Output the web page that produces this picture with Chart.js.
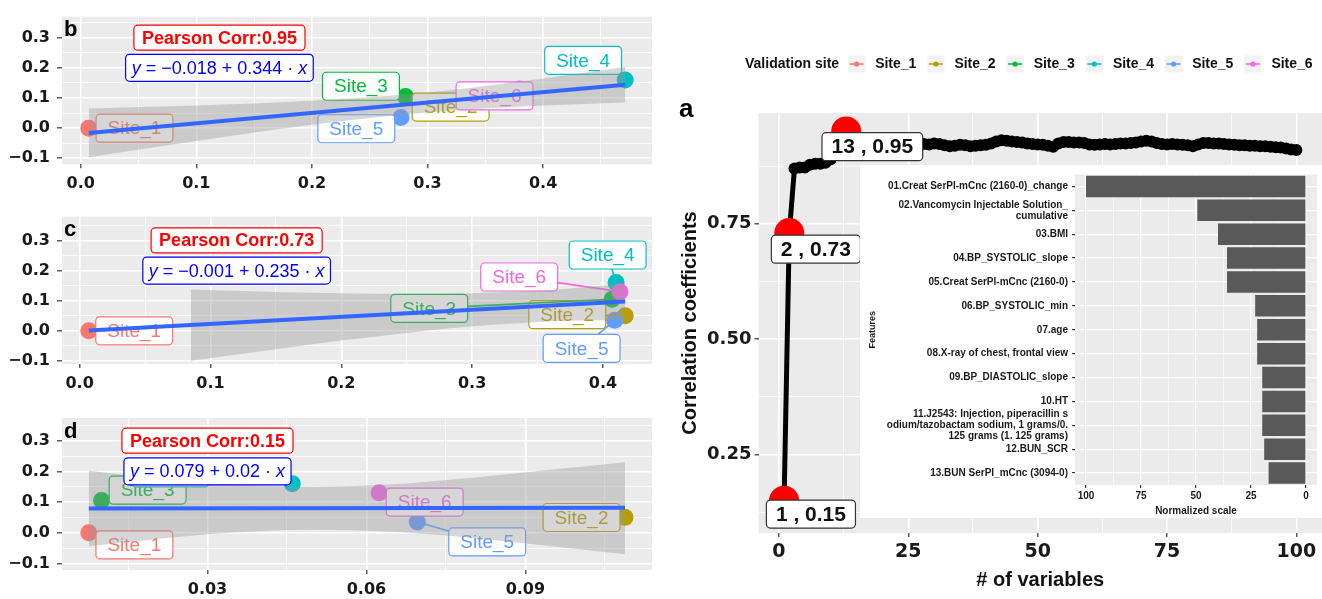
<!DOCTYPE html>
<html>
<head>
<meta charset="utf-8">
<script src="https://cdn.jsdelivr.net/npm/chart.js@4.4.1/dist/chart.umd.min.js"></script>
<style>
  body { margin: 0; background: #fff; }
  #fig { position: relative; width: 1322px; height: 599px; overflow: hidden; background: #fff; }
  canvas { position: absolute; }
</style>
</head>
<body>
<div id="fig">
  <canvas id="panelB" width="660" height="200" style="left:0px;top:0px"></canvas>
  <canvas id="panelC" width="660" height="200" style="left:0px;top:200px"></canvas>
  <canvas id="panelD" width="660" height="199" style="left:0px;top:400px"></canvas>
  <canvas id="panelA" width="662" height="599" style="left:660px;top:0px"></canvas>
  <canvas id="inset" width="462" height="353" style="left:860px;top:165px"></canvas>
</div>
<script>
const FONT = '"Liberation Sans", Arial, Helvetica, sans-serif';
const TICKFONT = '"DejaVu Sans", Verdana, sans-serif';
Chart.defaults.font.family = FONT;
Chart.defaults.color = '#1a1a1a';

// ---- sites (shared by b, c, d) ----
const siteNames = ['Site_1', 'Site_2', 'Site_3', 'Site_4', 'Site_5', 'Site_6'];
const siteColors = ['#F8766D', '#B79F00', '#00BA38', '#00BFC4', '#619CFF', '#F564E3'];
const siteCorr = [0, 0.05, 0.105, 0.16, 0.035, 0.13];

// ---- panel b ----
const bX = [0.007, 0.299, 0.281, 0.471, 0.277, 0.38];
const bFitX = [0.007, 0.471];
const bFitY = [-0.016, 0.144];
const bBandX = [0.007, 0.1, 0.2, 0.3, 0.4, 0.471];
const bBandLo = [-0.097, -0.043, 0.011, 0.052, 0.075, 0.085];
const bBandHi = [0.065, 0.075, 0.091, 0.118, 0.165, 0.203];
const bPearson = '0.95';
const bEquation = ['\u22120.018', '0.344'];

// ---- panel c ----
const cX = [0.007, 0.417, 0.407, 0.41, 0.409, 0.413];
const cFitX = [0.007, 0.417];
const cFitY = [0.001, 0.097];
const cBandX = [0.085, 0.15, 0.2, 0.25, 0.3, 0.344, 0.38, 0.417];
const cBandLo = [-0.099, -0.061, -0.032, -0.007, 0.015, 0.028, 0.034, 0.037];
const cBandHi = [0.137, 0.129, 0.125, 0.122, 0.125, 0.132, 0.142, 0.157];
const cPearson = '0.73';
const cEquation = ['\u22120.001', '0.235'];

// ---- panel d ----
const dX = [0.0076, 0.1088, 0.01, 0.046, 0.0696, 0.0624];
const dFitX = [0.0076, 0.1088];
const dFitY = [0.079, 0.081];
const dBandX = [0.0076, 0.02, 0.035, 0.05, 0.065, 0.08, 0.095, 0.1088];
const dBandLo = [-0.044, -0.021, 0.001, 0.01, 0.003, -0.017, -0.044, -0.07];
const dBandHi = [0.202, 0.179, 0.158, 0.15, 0.158, 0.179, 0.206, 0.23];
const dPearson = '0.15';
const dEquation = ['0.079', '0.02'];

// ---- panel a: correlation vs number of variables ----
const nVariables = [
  1, 2, 3, 4, 5, 6, 7, 8, 9, 10, 11, 12, 13, 14, 15, 16, 17, 18, 19, 20,
  21, 22, 23, 24, 25, 26, 27, 28, 29, 30, 31, 32, 33, 34, 35, 36, 37, 38, 39, 40,
  41, 42, 43, 44, 45, 46, 47, 48, 49, 50, 51, 52, 53, 54, 55, 56, 57, 58, 59, 60,
  61, 62, 63, 64, 65, 66, 67, 68, 69, 70, 71, 72, 73, 74, 75, 76, 77, 78, 79, 80,
  81, 82, 83, 84, 85, 86, 87, 88, 89, 90, 91, 92, 93, 94, 95, 96, 97, 98, 99, 100
];
const corrCoef = [
  0.15, 0.73, 0.87, 0.872, 0.872, 0.878, 0.88, 0.88, 0.882, 0.89,
  0.905, 0.915, 0.95, 0.925, 0.92, 0.918, 0.92, 0.922, 0.92, 0.918,
  0.92, 0.922, 0.92, 0.918, 0.92, 0.922, 0.924, 0.923, 0.922, 0.924,
  0.923, 0.92, 0.918, 0.919, 0.921, 0.92, 0.918, 0.919, 0.92, 0.921,
  0.924, 0.928, 0.931, 0.93, 0.928, 0.927, 0.926, 0.924, 0.923, 0.922,
  0.921, 0.919, 0.917, 0.924, 0.927, 0.927, 0.926, 0.926, 0.925, 0.922,
  0.921, 0.922, 0.923, 0.922, 0.923, 0.924, 0.924, 0.925, 0.926, 0.928,
  0.93, 0.928, 0.925, 0.923, 0.922, 0.923, 0.922, 0.921, 0.92, 0.918,
  0.922, 0.925, 0.925, 0.924, 0.924, 0.923, 0.922, 0.921, 0.92, 0.92,
  0.919, 0.919, 0.918, 0.918, 0.917, 0.916, 0.915, 0.913, 0.911, 0.91
];
const highlightIdx = [0, 1, 12];
const highlightText = ['1 , 0.15', '2 , 0.73', '13 , 0.95'];

// ---- inset: feature importance ----
const featureNames = [
  '01.Creat SerPl-mCnc (2160-0)_change',
  ['02.Vancomycin Injectable Solution_', 'cumulative'],
  '03.BMI',
  '04.BP_SYSTOLIC_slope',
  '05.Creat SerPl-mCnc (2160-0)',
  '06.BP_SYSTOLIC_min',
  '07.age',
  '08.X-ray of chest, frontal view',
  '09.BP_DIASTOLIC_slope',
  '10.HT',
  ['11.J2543: Injection, piperacillin s', 'odium/tazobactam sodium, 1 grams/0.', '125 grams (1. 125 grams)'],
  '12.BUN_SCR',
  '13.BUN SerPl_mCnc (3094-0)'
];
const featureScores = [100, 49.4, 40, 35.9, 35.9, 23.1, 22.2, 22.2, 19.9, 19.9, 19.9, 19, 17];

// ---- tick values / labels ----
const siteYMajor = [-0.1, 0, 0.1, 0.2, 0.3];
const siteYLabels = ['\u22120.1', '0.0', '0.1', '0.2', '0.3'];
const siteYMinor = [-0.05, 0.05, 0.15, 0.25, 0.35];
const bcXMajor = [0, 0.1, 0.2, 0.3, 0.4];
const bcXLabels = ['0.0', '0.1', '0.2', '0.3', '0.4'];
const bXMinor = [0.05, 0.15, 0.25, 0.35, 0.45];
const cXMinor = [0.05, 0.15, 0.25, 0.35];
const dXMajor = [0.03, 0.06, 0.09];
const dXLabels = ['0.03', '0.06', '0.09'];
const dXMinor = [0.015, 0.045, 0.075, 0.105];
const aXMajor = [0, 25, 50, 75, 100];
const aXLabels = ['0', '25', '50', '75', '100'];
const aXMinor = [12.5, 37.5, 62.5, 87.5];
const aYMajor = [0.25, 0.5, 0.75];
const aYLabels = ['0.25', '0.50', '0.75'];
const aYMinor = [0.125, 0.375, 0.625, 0.875];
const insetXMajor = [0, 25, 50, 75, 100];
const insetXLabels = ['0', '25', '50', '75', '100'];
const insetXMinor = [12.5, 37.5, 62.5, 87.5];

// grey ggplot panel behind everything
Chart.register({
  id: 'panelBg',
  beforeDraw(chart, args, o) {
    const { ctx, chartArea: a } = chart;
    ctx.save();
    if (o.page) {
      ctx.fillStyle = o.page;
      ctx.fillRect(0, 0, chart.width, chart.height);
    }
    ctx.fillStyle = '#EBEBEB';
    ctx.fillRect(a.left, a.top, a.right - a.left, a.bottom - a.top);
    ctx.restore();
  }
});

function ggLinear(o) {
  const all = o.major.concat(o.minor || []);
  const isMajor = v => o.major.indexOf(v) >= 0;
  const s = {
    type: 'linear', min: o.min, max: o.max, reverse: !!o.reverse,
    afterBuildTicks: sc => { sc.ticks = all.map(v => ({ value: v })); },
    afterFit: sc => { if (sc.isHorizontal()) sc.height = o.size; else sc.width = o.size; },
    ticks: {
      autoSkip: false, maxRotation: 0, padding: o.pad, color: '#1a1a1a',
      font: { size: o.fontSize, weight: 'bold', family: o.family || FONT },
      callback: v => isMajor(v) ? o.labels[o.major.indexOf(v)] : ''
    },
    grid: {
      color: '#fff',
      lineWidth: c => (c.tick && isMajor(c.tick.value)) ? o.majorW : o.minorW,
      tickColor: c => (c.tick && isMajor(c.tick.value)) ? '#333' : 'rgba(0,0,0,0)',
      tickLength: o.tickLen, tickWidth: 1.2
    },
    border: { display: false }
  };
  if (o.title) s.title = o.title;
  return s;
}

function box(ctx, cx, cy, w, h, r, stroke, lw) {
  const x = cx - w / 2, y = cy - h / 2;
  ctx.beginPath();
  ctx.moveTo(x + r, y);
  ctx.arcTo(x + w, y, x + w, y + h, r);
  ctx.arcTo(x + w, y + h, x, y + h, r);
  ctx.arcTo(x, y + h, x, y, r);
  ctx.arcTo(x, y, x + w, y, r);
  ctx.closePath();
  ctx.fillStyle = '#fff';
  ctx.fill();
  ctx.lineWidth = lw;
  ctx.strokeStyle = stroke;
  ctx.stroke();
}

function labelPlugin(p) {
  return {
    id: 'siteLabels',
    // site labels sit between the points and the smoother band
    afterDatasetDraw(chart, args) {
      if (args.index !== 0) return;
      const { ctx, scales: { x, y } } = chart;
      ctx.save();
      ctx.font = '19px ' + FONT;
      ctx.textAlign = 'center';
      ctx.textBaseline = 'middle';
      siteNames.forEach((name, i) => {
        const cx = x.getPixelForValue(p.labelX[i]);
        const cy = y.getPixelForValue(p.labelY[i]);
        const w = ctx.measureText(name).width + 23, h = 28;
        const px = x.getPixelForValue(p.x[i]);
        const py = y.getPixelForValue(siteCorr[i]);
        const dx = px - cx, dy = py - cy;
        const outX = Math.max(Math.abs(dx) - w / 2, 0);
        const outY = Math.max(Math.abs(dy) - h / 2, 0);
        if (Math.hypot(outX, outY) > 12) {
          const s = Math.min((w / 2) / Math.max(Math.abs(dx), 1e-6), (h / 2) / Math.max(Math.abs(dy), 1e-6));
          ctx.beginPath();
          ctx.moveTo(px, py);
          ctx.lineTo(cx + s * dx, cy + s * dy);
          ctx.strokeStyle = siteColors[i];
          ctx.lineWidth = 1.6;
          ctx.stroke();
        }
        box(ctx, cx, cy, w, h, 4, siteColors[i], 1.2);
        ctx.fillStyle = siteColors[i];
        ctx.fillText(name, cx, cy + 1);
      });
      ctx.restore();
    },
    afterDatasetsDraw(chart) {
      const { ctx, scales: { x, y }, chartArea } = chart;
      ctx.save();
      ctx.textBaseline = 'middle';
      // Pearson box
      const pcx = x.getPixelForValue(p.noteX), pcy = y.getPixelForValue(p.noteY[0]);
      ctx.font = 'bold 18px ' + FONT;
      const ptxt = 'Pearson Corr:' + p.pearson;
      const pw = ctx.measureText(ptxt).width + 16;
      box(ctx, pcx, pcy, pw, 25, 4, '#FF0000', 1.2);
      ctx.fillStyle = '#FF0000';
      ctx.textAlign = 'center';
      ctx.fillText(ptxt, pcx, pcy + 1);
      // equation box
      const ecx = x.getPixelForValue(p.noteX), ecy = y.getPixelForValue(p.noteY[1]);
      const pieces = [['y', true], [' = ' + p.eq[0] + ' + ' + p.eq[1] + ' \u00b7 ', false], ['x', true]];
      let tw = 0;
      const widths = pieces.map(pc => {
        ctx.font = (pc[1] ? 'italic ' : '') + '18px ' + FONT;
        const wv = ctx.measureText(pc[0]).width;
        tw += wv;
        return wv;
      });
      box(ctx, ecx, ecy, tw + 12, 27, 4, '#0000FF', 1.2);
      ctx.fillStyle = '#0000FF';
      ctx.textAlign = 'left';
      let tx = ecx - tw / 2;
      pieces.forEach((pc, k) => {
        ctx.font = (pc[1] ? 'italic ' : '') + '18px ' + FONT;
        ctx.fillText(pc[0], tx, ecy + 1);
        tx += widths[k];
      });
      // panel letter
      ctx.fillStyle = '#000';
      ctx.font = 'bold 22px ' + FONT;
      ctx.textBaseline = 'alphabetic';
      ctx.fillText(p.letter, chartArea.left + 2, chartArea.top + 19.5);
      ctx.restore();
    }
  };
}

function scatterPanel(id, p) {
  const pts = siteNames.map((n, i) => ({ x: p.x[i], y: siteCorr[i] }));
  const band = arr => p.bandX.map((v, i) => ({ x: v, y: arr[i] }));
  const bandStyle = {
    showLine: true, pointRadius: 0, borderWidth: 1, borderColor: 'rgba(0,0,0,0)',
    tension: 0.4, cubicInterpolationMode: 'monotone', order: 1
  };
  return new Chart(document.getElementById(id), {
    type: 'scatter',
    data: {
      datasets: [
        { data: pts, pointRadius: 8.5, pointBackgroundColor: siteColors, pointBorderColor: siteColors, pointBorderWidth: 0, order: 2 },
        Object.assign({ data: band(p.bandLo) }, bandStyle),
        Object.assign({ data: band(p.bandHi), fill: '-1', backgroundColor: 'rgba(153,153,153,0.4)' }, bandStyle),
        { data: p.fitX.map((v, i) => ({ x: v, y: p.fitY[i] })), showLine: true, pointRadius: 0, borderColor: '#3366FF', borderWidth: 4, order: 0 }
      ]
    },
    options: {
      responsive: false, animation: false, events: [],
      layout: { autoPadding: false, padding: { left: 0, top: p.padTop, right: 8, bottom: 0 } },
      scales: {
        x: ggLinear({ min: p.xMin, max: p.xMax, major: p.xMajor, labels: p.xLabels, minor: p.xMinor,
          size: p.xAxisH, pad: 6, tickLen: 4, fontSize: 16, family: TICKFONT, majorW: 1.6, minorW: 0.8 }),
        y: ggLinear({ min: p.yMin, max: p.yMax, major: siteYMajor, labels: siteYLabels, minor: siteYMinor,
          size: 62, pad: 7, tickLen: 5, fontSize: 16, family: TICKFONT, majorW: 1.6, minorW: 0.8 })
      },
      plugins: { legend: { display: false }, tooltip: { enabled: false }, panelBg: {} }
    },
    plugins: [labelPlugin(p)]
  });
}

scatterPanel('panelB', {
  letter: 'b', x: bX, fitX: bFitX, fitY: bFitY, bandX: bBandX, bandLo: bBandLo, bandHi: bBandHi,
  pearson: bPearson, eq: bEquation, noteX: 0.12, noteY: [0.3, 0.2],
  labelX: [0.0465, 0.32, 0.2424, 0.4346, 0.2384, 0.358],
  labelY: [0.0, 0.07, 0.139, 0.225, -0.002, 0.107],
  xMin: -0.0162, xMax: 0.4942, xMajor: bcXMajor, xLabels: bcXLabels, xMinor: bXMinor,
  yMin: -0.12, yMax: 0.37, padTop: 12.7, xAxisH: 35.7
});

scatterPanel('panelC', {
  letter: 'c', x: cX, fitX: cFitX, fitY: cFitY, bandX: cBandX, bandLo: cBandLo, bandHi: cBandHi,
  pearson: cPearson, eq: cEquation, noteX: 0.12, noteY: [0.3, 0.2],
  labelX: [0.0417, 0.3727, 0.2672, 0.4036, 0.3837, 0.336],
  labelY: [0.0, 0.0536, 0.0747, 0.2516, -0.0584, 0.1786],
  xMin: -0.0135, xMax: 0.4375, xMajor: bcXMajor, xLabels: bcXLabels, xMinor: cXMinor,
  yMin: -0.11, yMax: 0.379, padTop: 13.3, xAxisH: 36
});

scatterPanel('panelD', {
  letter: 'd', x: dX, fitX: dFitX, fitY: dFitY, bandX: dBandX, bandLo: dBandLo, bandHi: dBandHi,
  pearson: dPearson, eq: dEquation, noteX: 0.03, noteY: [0.3, 0.2],
  labelX: [0.0162, 0.1006, 0.0187, 0.023, 0.0828, 0.071],
  labelY: [-0.04, 0.0495, 0.139, 0.195, -0.03, 0.1],
  xMin: 0.00254, xMax: 0.1139, xMajor: dXMajor, xLabels: dXLabels, xMinor: dXMinor,
  yMin: -0.1216, yMax: 0.374, padTop: 18, xAxisH: 29
});

// ---- panel a ----
const curve = nVariables.map((v, i) => ({ x: v, y: corrCoef[i] }));
const picked = highlightIdx.map(i => ({ x: nVariables[i], y: corrCoef[i] }));
const labelAnchors = [[6.18, 0.121], [7.14, 0.695], [18.05, 0.917]];

new Chart(document.getElementById('panelA'), {
  type: 'scatter',
  data: {
    datasets: [
      { data: picked, pointRadius: 15, pointBackgroundColor: '#FF0000', pointBorderWidth: 0, order: 0 },
      { data: curve, showLine: true, borderColor: '#000', borderWidth: 5, pointRadius: 6,
        pointBackgroundColor: '#000', pointBorderWidth: 0, order: 1 }
    ]
  },
  options: {
    responsive: false, animation: false, events: [],
    layout: { autoPadding: false, padding: { left: 0, top: 113, right: 0, bottom: 0 } },
    scales: {
      x: ggLinear({ min: -3.95, max: 104.95, major: aXMajor, labels: aXLabels, minor: aXMinor,
        size: 66, pad: 4, tickLen: 4, fontSize: 19, family: TICKFONT, majorW: 1.6, minorW: 0.8,
        title: { display: true, text: '# of variables', color: '#111', font: { size: 20, weight: 'bold' }, padding: { top: 0, bottom: 7 } } }),
      y: ggLinear({ min: 0.08, max: 0.99, major: aYMajor, labels: aYLabels, minor: aYMinor,
        size: 98.5, pad: 3, tickLen: 4, fontSize: 18, family: TICKFONT, majorW: 1.6, minorW: 0.8,
        title: { display: true, text: 'Correlation coefficients', color: '#111', font: { size: 20, weight: 'bold' }, padding: { top: 18, bottom: 0 } } })
    },
    plugins: { legend: { display: false }, tooltip: { enabled: false }, panelBg: {} }
  },
  plugins: [{
    id: 'pointLabels',
    afterDatasetsDraw(chart) {
      const { ctx, scales: { x, y } } = chart;
      ctx.save();
      ctx.font = 'bold 21px ' + FONT;
      ctx.textAlign = 'center';
      ctx.textBaseline = 'middle';
      highlightText.forEach((t, k) => {
        const cx = x.getPixelForValue(labelAnchors[k][0]);
        const cy = y.getPixelForValue(labelAnchors[k][1]);
        box(ctx, cx, cy, ctx.measureText(t).width + 19, 28, 4, '#333', 1.2);
        ctx.fillStyle = '#111';
        ctx.fillText(t, cx, cy + 1);
      });
      ctx.restore();
    },
    afterDraw(chart) {
      const ctx = chart.ctx;
      ctx.save();
      // legend
      ctx.textBaseline = 'middle';
      ctx.textAlign = 'left';
      ctx.font = 'bold 14px ' + FONT;
      ctx.fillStyle = '#111';
      let lx = 85;
      const ly = 64;
      ctx.fillText('Validation site', lx, ly);
      lx += ctx.measureText('Validation site').width + 9;
      siteNames.forEach((n, i) => {
        ctx.fillStyle = '#F2F2F2';
        ctx.fillRect(lx, ly - 8.5, 17, 17);
        ctx.strokeStyle = siteColors[i];
        ctx.lineWidth = 1.5;
        ctx.beginPath();
        ctx.moveTo(lx + 1.5, ly);
        ctx.lineTo(lx + 15.5, ly);
        ctx.stroke();
        ctx.fillStyle = siteColors[i];
        ctx.beginPath();
        ctx.arc(lx + 8.5, ly, 2.6, 0, Math.PI * 2);
        ctx.fill();
        lx += 27;
        ctx.fillStyle = '#111';
        ctx.fillText(n, lx, ly);
        lx += ctx.measureText(n).width + 11;
      });
      // panel letter
      ctx.fillStyle = '#000';
      ctx.font = 'bold 26px ' + FONT;
      ctx.textBaseline = 'alphabetic';
      ctx.fillText('a', 19, 117);
      ctx.restore();
    }
  }]
});

// ---- inset bars ----
new Chart(document.getElementById('inset'), {
  type: 'bar',
  data: {
    labels: featureNames,
    datasets: [{ data: featureScores, backgroundColor: '#595959', barPercentage: 0.9, categoryPercentage: 1 }]
  },
  options: {
    indexAxis: 'y',
    responsive: false, animation: false, events: [],
    layout: { autoPadding: false, padding: { left: 0, top: 2, right: 5, bottom: 0 } },
    scales: {
      x: ggLinear({ min: -5, max: 105, reverse: true, major: insetXMajor, labels: insetXLabels, minor: insetXMinor,
        size: 33, pad: 2, tickLen: 3, fontSize: 10, majorW: 1.2, minorW: 0.6,
        title: { display: true, text: 'Normalized scale', color: '#1a1a1a', font: { size: 10, weight: 'bold' }, padding: { top: 0, bottom: 1 } } }),
      y: {
        type: 'category',
        afterFit: sc => { sc.width = 215; },
        ticks: { autoSkip: false, padding: 4, color: '#1a1a1a', font: { size: 10, weight: 'bold', lineHeight: 1.1 } },
        grid: { color: '#fff', lineWidth: 1.2, offset: false, tickColor: '#333', tickLength: 3 },
        border: { display: false },
        title: { display: true, text: 'Features', color: '#1a1a1a', font: { size: 9, weight: 'bold' }, padding: { top: 7, bottom: 0 } }
      }
    },
    plugins: { legend: { display: false }, tooltip: { enabled: false }, panelBg: { page: '#fff' } }
  }
});
</script>
</body>
</html>
